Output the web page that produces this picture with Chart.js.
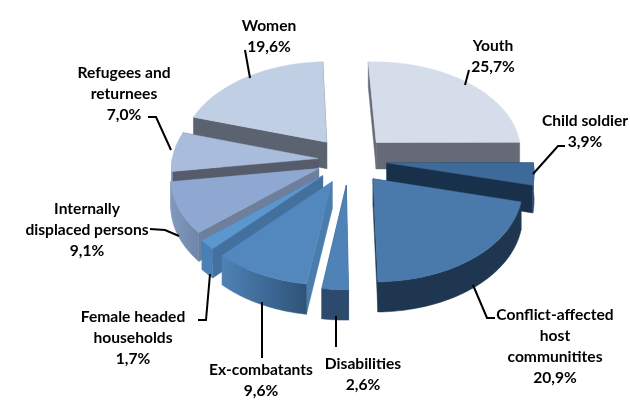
<!DOCTYPE html>
<html>
<head>
<meta charset="utf-8">
<title>Beneficiaries</title>
<script src="https://cdn.jsdelivr.net/npm/chart.js@4/dist/chart.umd.min.js"></script>
<style>
  html, body { margin: 0; background: #fff; }
  canvas { display: block; }
</style>
</head>
<body>
<canvas id="pie3d" width="630" height="403"></canvas>
<script>
const categories = ["Youth", "Child soldier", "Conflict-affected host communitites", "Disabilities", "Ex-combatants",
  "Female headed households", "Internally displaced persons", "Refugees and returnees", "Women"];
const shares = [25.7, 3.9, 20.9, 2.6, 9.6, 1.7, 9.1, 7.0, 19.6];

// how far each slice is pulled out of the pie
const explode = [40, 38, 38, 40, 38, 36, 33, 31, 37];

// face colours
const topColors = ["#d5dcea", "#3e6a99", "#4a7aab", "#4f83b7", "#5288be", "#5b96cf", "#8fa8d2", "#a9bcdc", "#c1cfe5"];
const cutColors = ["#666a76", "#19304a", "#1f3a57", "#2b4a6c", "#4a7dae", "#44709e", "#6f7f9b", "#565c6c", "#5b6270"];
const rimFrom = ["#666a76", "#2a5078", "#1f3650", "#2b4a6c", "#4e82b6", "#4a80b5", "#8199bd", "#8fa4c6", "#5b6270"];
const rimTo = ["#666a76", "#2a5078", "#1f3650", "#2b4a6c", "#2e5378", "#4a80b5", "#6e86aa", "#8fa4c6", "#5b6270"];

// label lines, broken the way they sit on the page: [lines, centre x, first baseline]
const labelLines = [
  [["Youth"], 493, 51],
  [["Child soldier"], 585, 126],
  [["Conflict-affected", "host", "communitites"], 555, 320],
  [["Disabilities"], 363, 369],
  [["Ex-combatants"], 261, 375],
  [["Female headed", "households"], 133, 322],
  [["Internally", "displaced persons"], 87, 214],
  [["Refugees and", "returnees"], 124, 78],
  [["Women"], 269, 31],
];
const leaders = [
  [[465, 85], [469, 70]],
  [[533, 174], [558, 146], [565, 146]],
  [[473, 285], [487, 318], [495, 318]],
  [[336, 316], [336, 347]],
  [[262, 302], [262, 358]],
  [[210, 274], [206, 320], [198, 320]],
  [[179, 236], [165, 230], [150, 229]],
  [[171, 150], [156, 117], [148, 117]],
  [[250, 78], [245, 50]],
];

const DEPTH = 27;
const FLATTEN = 0.62;
const PERSPECTIVE = 0.0006;
const LINE_GAP = 21;

// ground plane -> screen, nearer points get larger
function project(cx, cy, gx, gy, z) {
  const w = 1 / (1 - gy * PERSPECTIVE);
  return [cx + gx * w, cy + (gy * FLATTEN + z) * w];
}

function poly(ctx, pts, fill) {
  ctx.beginPath();
  pts.forEach((p, i) => (i ? ctx.lineTo(p[0], p[1]) : ctx.moveTo(p[0], p[1])));
  ctx.closePath();
  ctx.fillStyle = fill;
  ctx.strokeStyle = fill;
  ctx.lineWidth = 0.5;
  ctx.fill();
  ctx.stroke();
}

function drawWedge(ctx, arc, i) {
  const { x, y, startAngle, endAngle, outerRadius } = arc.getProps(["x", "y", "startAngle", "endAngle", "outerRadius"], true);
  const mid = (startAngle + endAngle) / 2;
  const off = arc.options.offset;
  const ox = Math.cos(mid) * off;
  const oy = Math.sin(mid) * off;
  const at = (t, z) => project(x, y, ox + Math.cos(t) * outerRadius, oy + Math.sin(t) * outerRadius, z);
  const apex = z => project(x, y, ox, oy, z);

  const steps = Math.max(4, Math.ceil((endAngle - startAngle) * 40));
  const angles = [];
  for (let s = 0; s <= steps; s++) angles.push(startAngle + (endAngle - startAngle) * s / steps);

  // both cut faces first, the rim sits over them
  poly(ctx, [apex(0), at(startAngle, 0), at(startAngle, DEPTH), apex(DEPTH)], cutColors[i]);
  poly(ctx, [apex(0), at(endAngle, 0), at(endAngle, DEPTH), apex(DEPTH)], cutColors[i]);

  const front = angles.filter(t => Math.sin(t) > -0.02);
  if (front.length > 1) {
    const x0 = at(front[0], 0)[0];
    const x1 = at(front[front.length - 1], 0)[0];
    const rim = ctx.createLinearGradient(Math.min(x0, x1), 0, Math.max(x0, x1), 0);
    rim.addColorStop(0, rimFrom[i]);
    rim.addColorStop(1, rimTo[i]);
    const band = front.map(t => at(t, 0)).concat(front.slice().reverse().map(t => at(t, DEPTH)));
    poly(ctx, band, rim);
  }

  poly(ctx, [apex(0)].concat(angles.map(t => at(t, 0))), arc.options.backgroundColor);
}

const pie3d = {
  id: "pie3d",
  beforeDatasetsDraw(chart) {
    const arcs = chart.getDatasetMeta(0).data;
    const order = arcs.map((a, i) => i).sort((p, q) => {
      const mid = a => (a.startAngle + a.endAngle) / 2;
      return Math.sin(mid(arcs[p])) - Math.sin(mid(arcs[q]));
    });
    order.forEach(i => drawWedge(chart.ctx, arcs[i], i));
    return false;
  },
  afterDraw(chart) {
    const ctx = chart.ctx;
    ctx.save();
    ctx.strokeStyle = "#000";
    ctx.lineWidth = 2;
    leaders.forEach(pts => {
      ctx.beginPath();
      pts.forEach((p, i) => (i ? ctx.lineTo(p[0], p[1]) : ctx.moveTo(p[0], p[1])));
      ctx.stroke();
    });
    ctx.fillStyle = "#000";
    ctx.font = "bold 15.6px Lato";
    ctx.textAlign = "center";
    labelLines.forEach(([lines, cx, top], i) => {
      lines.forEach((t, k) => ctx.fillText(t, cx, top + k * LINE_GAP));
      const pct = shares[i].toFixed(1).replace(".", ",") + "%";
      ctx.fillText(pct, cx, top + lines.length * LINE_GAP);
    });
    ctx.restore();
  },
};

new Chart(document.getElementById("pie3d"), {
  type: "pie",
  data: {
    labels: categories,
    datasets: [{
      data: shares,
      backgroundColor: topColors,
      borderWidth: 0,
      offset: explode,
    }],
  },
  options: {
    responsive: false,
    animation: false,
    radius: 146,
    rotation: -2.5,
    layout: { padding: { left: 68, bottom: 83 } },
    plugins: { legend: { display: false }, tooltip: { enabled: false } },
  },
  plugins: [pie3d],
});
</script>
</body>
</html>
